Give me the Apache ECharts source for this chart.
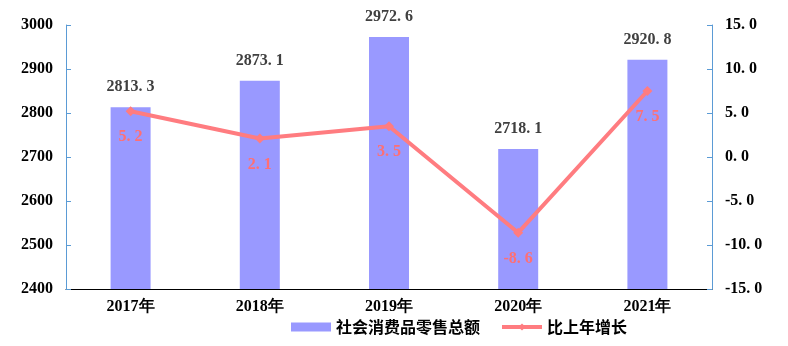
<!DOCTYPE html>
<html><head><meta charset="utf-8">
<script src="https://cdn.jsdelivr.net/npm/echarts@6/dist/echarts.min.js"></script>
<style>html,body{margin:0;padding:0;background:#fff}#c{width:788px;height:346px}</style>
</head><body><div id="c"></div>
<script>
const categories = ['2017年','2018年','2019年','2020年','2021年'];
const salesValues = [2813.3, 2873.1, 2972.6, 2718.1, 2920.8];
const growthValues = [5.2, 2.1, 3.5, -8.6, 7.5];
const seriesNames = ['社会消费品零售总额','比上年增长'];
const serif = '"Liberation Serif","DejaVu Serif",serif';
const fmt = v => v.toFixed(1).replace('.','. ');
const chart = echarts.init(document.getElementById('c'));
chart.setOption({
  animation:false,
  grid:{left:66,right:76,top:25,bottom:57},
  legend:{bottom:6,left:286,itemGap:20,itemWidth:40,itemHeight:9,
    textStyle:{fontFamily:'"Noto Sans CJK SC",sans-serif',fontSize:16,color:'#000',fontWeight:'bold'},
    data:[{name:seriesNames[0],icon:'rect'},{name:seriesNames[1],lineStyle:{width:4,color:'#FF7C80'}}]},
  xAxis:{type:'category',data:categories,
    axisLine:{onZero:false,lineStyle:{color:'#000',width:1}},axisTick:{show:false},
    axisLabel:{color:'#000',fontFamily:serif,fontWeight:'bold',fontSize:16,margin:10}},
  yAxis:[{type:'value',min:2400,max:3000,interval:100,
    axisLine:{show:true,lineStyle:{color:'#5B9BD5'}},axisTick:{show:true,inside:true,length:5,lineStyle:{color:'#5B9BD5'}},
    splitLine:{show:false},
    axisLabel:{color:'#000',fontFamily:serif,fontWeight:'bold',fontSize:16,margin:13,formatter:v=>String(v)}},
   {type:'value',min:-15,max:15,interval:5,position:'right',
    axisLine:{show:true,lineStyle:{color:'#5B9BD5'}},axisTick:{show:true,inside:true,length:5,lineStyle:{color:'#5B9BD5'}},
    splitLine:{show:false},
    axisLabel:{color:'#000',fontFamily:serif,fontWeight:'bold',fontSize:16,margin:13,formatter:fmt}}],
  series:[
   {name:seriesNames[0],type:'bar',data:salesValues,barWidth:40,yAxisIndex:0,
    itemStyle:{color:'#9999FF'},
    label:{show:true,position:'top',distance:12,color:'#404040',fontFamily:serif,fontWeight:'bold',fontSize:16,
      textBorderWidth:0,formatter:p=>fmt(p.value)}},
   {name:seriesNames[1],type:'line',data:growthValues,yAxisIndex:1,z:5,
    symbol:'diamond',symbolSize:10,
    lineStyle:{color:'#FF7C80',width:4},itemStyle:{color:'#FF7C80'},
    label:{show:true,position:'bottom',distance:13,color:'#FF6F73',fontFamily:serif,fontWeight:'bold',fontSize:16,
      textBorderWidth:0,formatter:p=>fmt(p.value)}}
  ]
});
</script></body></html>
